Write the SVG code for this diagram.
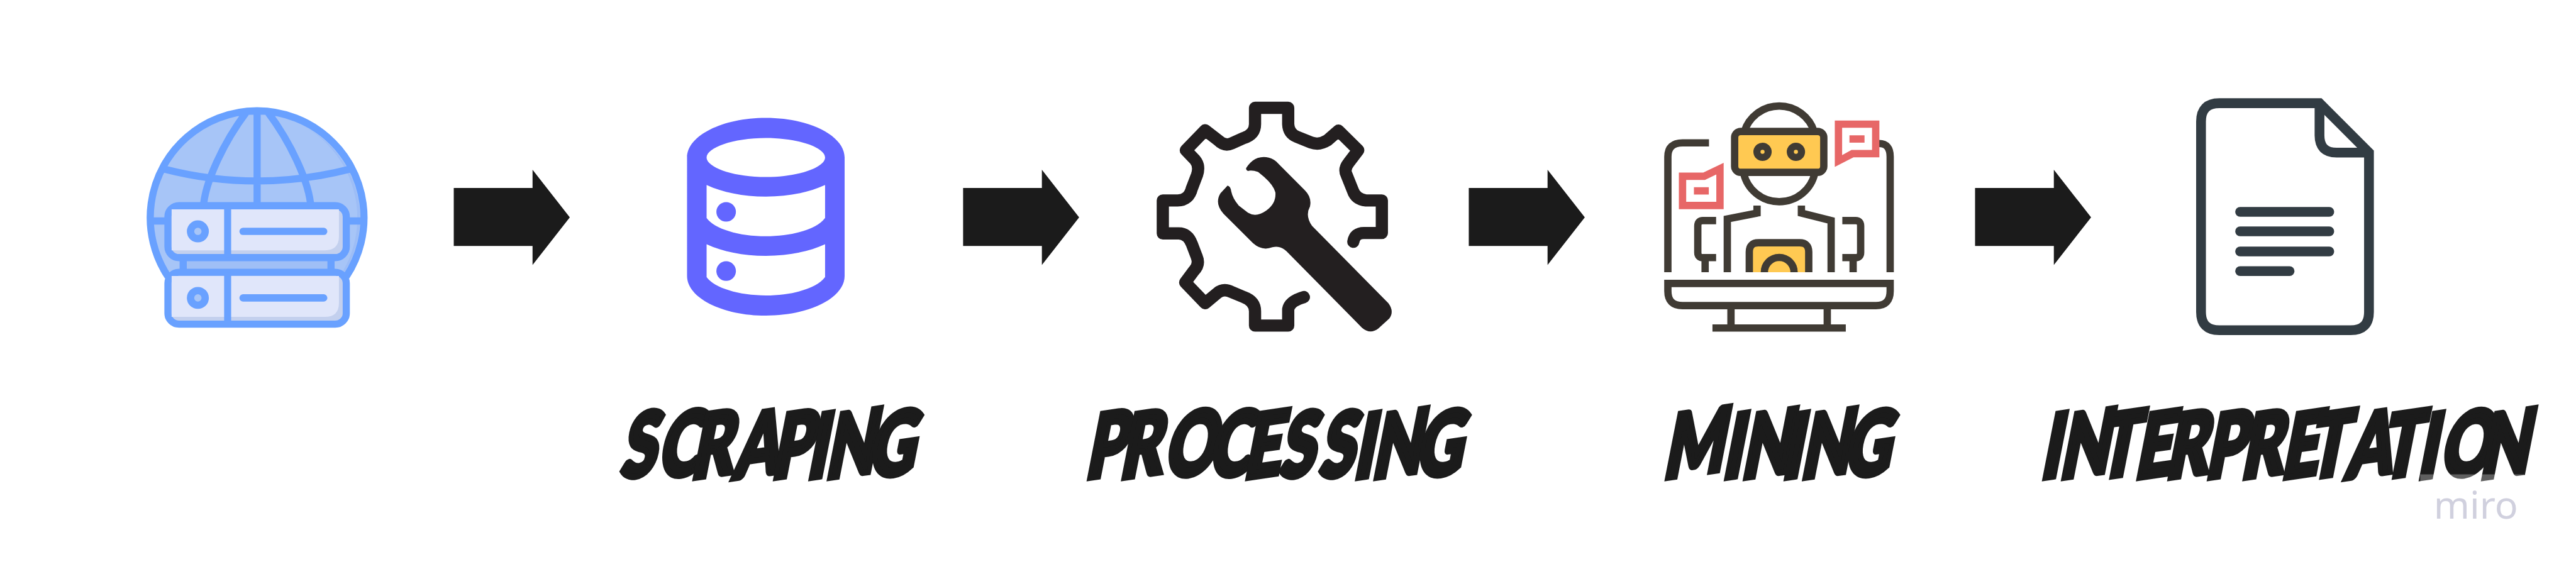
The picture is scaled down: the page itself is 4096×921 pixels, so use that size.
<svg xmlns="http://www.w3.org/2000/svg" width="4096" height="921" viewBox="0 0 4096 921">
<style>
.lbl{font-family:"Lato","Liberation Sans",sans-serif;font-weight:900;font-size:112px;fill:#1b1b1b;stroke:#1b1b1b;stroke-width:8;stroke-linejoin:miter}
.gs{fill:none;stroke:#69a1ff;stroke-width:11.7}
.m{fill:none;stroke:#403b34;stroke-width:36}
.r{fill:#e76767}
.d{fill:#323c43}
.ds{fill:none;stroke:#323c43;stroke-width:16}
</style>
<defs>
<polygon id="arrow" points="0,0 129,0 129,-30 190,48 129,126 129,95 0,95" fill="#1b1b1b"/>
<g id="srv">
<rect x="275" y="0" width="292" height="85" rx="18" fill="#c3d0ee" stroke="#69a1ff" stroke-width="11.7"/>
<path d="M281,6H555V50Q555,73 532,73H281Z" fill="#e0e6fa"/>
<rect x="367" y="0" width="11.5" height="85" fill="#69a1ff"/>
<circle cx="324" cy="42" r="12" fill="#a7c5f7" stroke="#69a1ff" stroke-width="12"/>
<rect x="392" y="36" width="144" height="12" rx="6" fill="#69a1ff"/>
</g>
</defs>
<rect width="4096" height="921" fill="#fff"/>
<g transform="scale(0.97108)">
<g id="connectors">
<use href="#arrow" x="743" y="308"/>
<use href="#arrow" x="1577" y="308"/>
<use href="#arrow" x="2405" y="308"/>
<use href="#arrow" x="3234" y="308"/>
</g>
<g id="node-web">
<path d="M275,453A175 175 0 1 1 567,453Z" fill="#a7c5f7"/>
<path d="M500,208A169 169 0 0 1 500,506A173 173 0 0 0 500,208Z" fill="#9dbdf6"/>
<path class="gs" d="M275,453A175 175 0 1 1 567,453M421,178V340M404,183C365,235 335,300 333,340M438,183C477,235 507,300 509,340M269,277Q421,316 573,277M246,362H272M570,362H596"/>
<rect x="294" y="425" width="254" height="18" fill="#9fbff6"/>
<path d="M300,425V443M542,425V443" class="gs"/>
<use href="#srv" y="337"/>
<use href="#srv" y="446"/>
</g>
<g id="node-scraping">
<path fill="#6366ff" fill-rule="evenodd" d="M1125,258C1125,222 1183,193 1254,193C1325,193 1383,222 1383,258V452C1383,488 1325,517 1254,517C1183,517 1125,488 1125,452Z
M1157,258C1157,274 1200,290 1254,290C1308,290 1351,274 1351,258C1351,242 1308,226 1254,226C1200,226 1157,242 1157,258Z
M1157,303V357C1170,375 1210,387 1254,387C1298,387 1338,375 1351,357V303C1325,315 1292,322 1254,322C1216,322 1183,315 1157,303Z
M1157,400V454C1170,472 1210,484 1254,484C1298,484 1338,472 1351,454V400C1325,412 1292,419 1254,419C1216,419 1183,412 1157,400Z"/>
<circle cx="1189" cy="347" r="16" fill="#6366ff"/>
<circle cx="1189" cy="444" r="16" fill="#6366ff"/>
</g>
<g id="node-processing" transform="translate(1840,140) scale(0.33333)">
<path fill="none" stroke="#231f20" stroke-width="60" stroke-linejoin="round" stroke-linecap="round" d="M1128,768Q1135,725 1180,725H1268V565H1190Q1140,560 1125,515L1095,440Q1080,410 1105,380L1152,318L1055,222L1000,270Q960,295 920,280L850,252Q810,235 808,190V110H645V190Q645,240 590,258L530,285Q495,300 465,270L400,220L305,318L350,365Q375,395 360,440L335,505Q320,565 265,565H192V727H270Q315,727 335,780L358,840Q375,880 345,910L302,968L400,1070L460,1020Q490,995 530,1015L590,1040Q645,1060 645,1110V1180H808V1100Q815,1060 885,1040"/>
<path fill="#231f20" d="M602,405Q640,345 700,352Q735,355 760,385L890,515Q925,550 915,595Q890,640 925,690L1300,1070Q1330,1110 1305,1145L1250,1195Q1210,1225 1170,1190L800,815Q770,785 730,795Q680,815 635,775L490,630Q445,580 475,530L510,492Q525,495 528,520Q535,555 565,590L610,625Q650,650 700,615Q750,580 745,525Q735,490 690,450L660,425Q630,415 610,420Q598,415 602,405Z"/>
</g>
<g id="node-mining" transform="translate(2680,140) scale(0.33333)">
<path class="m" d="M153,918V350Q153,282 225,282H355M1245,918V350Q1245,285 1190,285"/>
<path class="m" d="M153,973H1245V1010Q1245,1082 1175,1082H225Q153,1082 153,1010ZM463,1082V1192M936,1082V1192M372,1192H1027"/>
<path class="m" d="M528,228A180 180 0 0 1 872,228M525,430A179 179 0 0 0 875,430"/>
<rect x="481" y="226" width="438" height="201" rx="30" fill="#ffc952" stroke="#403b34" stroke-width="36"/>
<circle cx="618" cy="326" r="27.5" fill="#ffc952" stroke="#403b34" stroke-width="35"/>
<circle cx="782" cy="326" r="27.5" fill="#ffc952" stroke="#403b34" stroke-width="35"/>
<path class="m" d="M445,918V656L591,627V590M955,918V664L809,627V590"/>
<path class="m" d="M390,664H325Q300,664 300,690V820Q300,846 325,846H390M336,846V918M1010,664H1075Q1100,664 1100,690V820Q1100,846 1075,846H1010M1063,846V918"/>
<path fill="#ffc952" d="M553,918V818Q553,773 598,773H800Q845,773 845,818V918Z"/>
<path class="m" d="M553,918V818Q553,773 598,773H800Q845,773 845,818V918M627,918A73 73 0 0 1 773,918"/>
<path class="r" fill-rule="evenodd" d="M207,428H327L427,380V608H207ZM243,464V572H391V437L335,464Z"/>
<rect class="r" x="281" y="500" width="73" height="36"/>
<path class="r" fill-rule="evenodd" d="M973,172H1192V353H1065L973,400ZM1009,208V342L1055,317H1156V208Z"/>
<rect class="r" x="1045" y="245" width="74" height="36"/>
</g>
<g id="node-interpretation">
<path class="ds" d="M3634,169H3798L3879,250V511Q3879,541 3849,541H3634Q3604,541 3604,511V199Q3604,169 3634,169Z"/>
<path class="ds" d="M3798,169V222Q3798,250 3826,250H3879"/>
<rect class="d" x="3660" y="339" width="162" height="16" rx="8"/>
<rect class="d" x="3660" y="371" width="162" height="16" rx="8"/>
<rect class="d" x="3660" y="404" width="162" height="16" rx="8"/>
<rect class="d" x="3660" y="436" width="97" height="16" rx="8"/>
</g>
<g id="labels">
<text class="lbl" transform="translate(0,784) skewX(-15) scale(0.9,1.3)" rotate="-6" x="1127 1195.6 1255.6 1333.3 1402.2 1466.7 1500 1578">SCRAPING</text>
<text class="lbl" transform="translate(0,784) skewX(-15) scale(0.9,1.3)" rotate="-6" x="1973.3 2035.6 2116.7 2197.8 2261.1 2326 2398 2461.1 2494.4 2574">PROCESSING</text>
<text class="lbl" transform="translate(0,784) skewX(-15) scale(0.9,1.3)" rotate="-6" x="3024.4 3132.2 3166.7 3241.1 3274.4 3353">MINING</text>
<text class="lbl" transform="translate(0,784) skewX(-15) scale(0.9,1.3)" rotate="-6" x="3711.1 3745.6 3815.6 3882.2 3938.9 4011.1 4075.6 4148.9 4197.8 4266.7 4330 4396.7 4437.8 4510">INTERPRETATION</text>
<rect x="3963" y="777" width="170" height="14" fill="#fff" opacity=".3"/>
<text x="3985" y="850" font-family="Noto Sans,sans-serif" font-size="62" fill="#d0d0de" textLength="138" lengthAdjust="spacingAndGlyphs">miro</text>
</g>
</g>
</svg>
